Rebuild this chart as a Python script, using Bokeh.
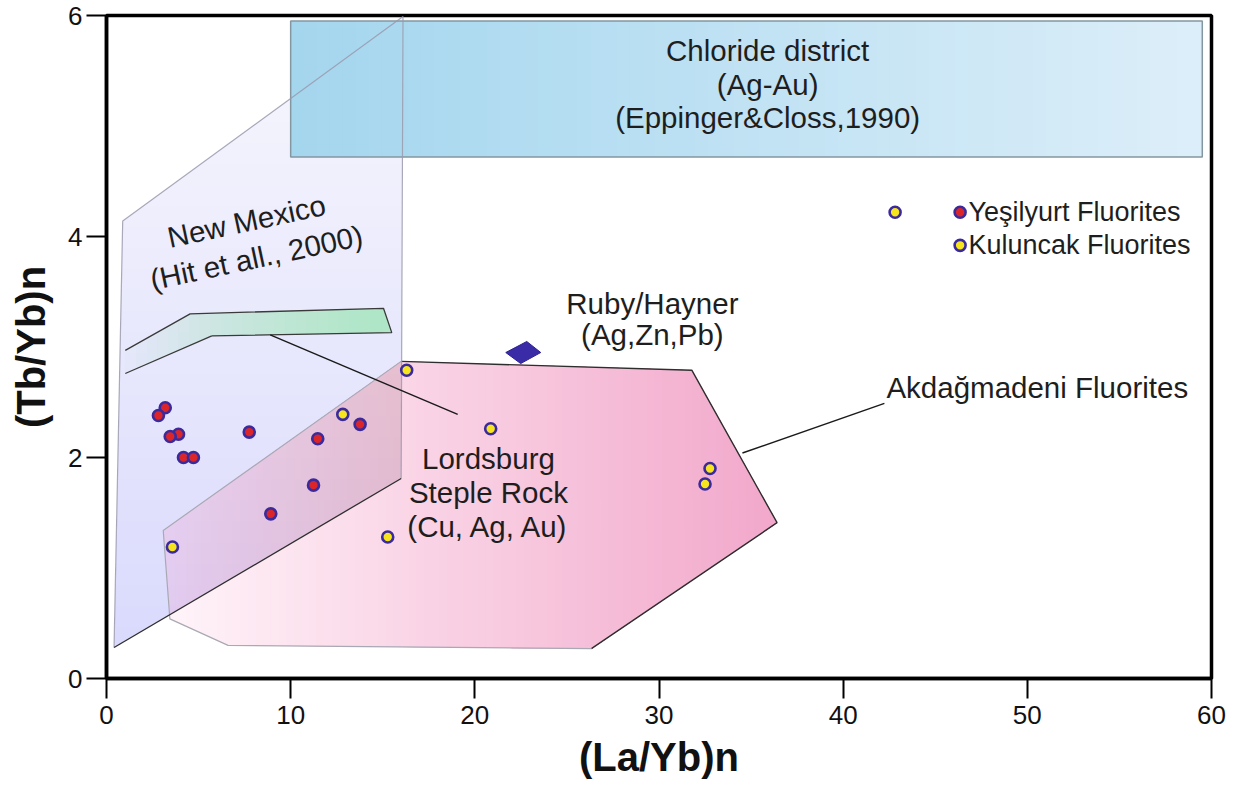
import numpy as np
from bokeh.plotting import figure
from bokeh.models import Range1d, FixedTicker
from bokeh.core.properties import value
from bokeh.embed import file_html
from bokeh.resources import INLINE

# ---------------- data ----------------
x_ticks = [0, 10, 20, 30, 40, 50, 60]
y_ticks = [0, 2, 4, 6]

yesilyurt_x = [3.19, 2.82, 3.91, 3.46, 4.18, 4.72, 7.75, 11.47, 13.77, 11.24, 8.92]
yesilyurt_y = [2.45, 2.38, 2.21, 2.19, 2.00, 2.00, 2.23, 2.17, 2.30, 1.75, 1.49]

kuluncak_x = [16.30, 12.83, 20.86, 15.27, 3.58, 32.77, 32.50, 42.82]
kuluncak_y = [2.79, 2.39, 2.26, 1.28, 1.19, 1.90, 1.76, 4.22]

chloride_x = [10.0, 59.5, 59.5, 10.0]
chloride_y = [4.72, 4.72, 5.95, 5.95]

newmexico_x = [0.41, 0.88, 16.1, 16.0]
newmexico_y = [0.28, 4.14, 5.99, 1.81]

lordsburg_x = [1.02, 4.54, 15.04, 15.49, 5.72, 1.02]
lordsburg_y = [2.97, 3.30, 3.35, 3.13, 3.10, 2.76]

akdag_x = [3.08, 16.0, 31.78, 36.41, 26.33, 6.60, 3.44]
akdag_y = [1.34, 2.87, 2.79, 1.41, 0.27, 0.30, 0.54]

ruby_x = [21.68, 22.82, 23.58, 22.49]
ruby_y = [2.95, 3.05, 2.95, 2.85]

lead_lords_x = [8.89, 19.07]
lead_lords_y = [3.11, 2.39]
lead_akdag_x = [34.53, 42.24]
lead_akdag_y = [2.04, 2.49]

chloride_text = ["Chloride district", "(Ag-Au)", "(Eppinger&Closs,1990)"]
chloride_tx = [35.9, 35.9, 35.9]
chloride_ty = [5.68, 5.38, 5.08]

newmex_text = ["New Mexico", "(Hit et all., 2000)"]
newmex_tx = [7.60, 8.14]
newmex_ty = [4.14, 3.81]

ruby_text = ["Ruby/Hayner", "(Ag,Zn,Pb)"]
ruby_tx = [29.64, 29.64]
ruby_ty = [3.39, 3.11]

lords_text = ["Lordsburg", "Steple Rock", "(Cu, Ag, Au)"]
lords_tx = [20.74, 20.74, 20.74]
lords_ty = [1.99, 1.68, 1.38]

akdag_text = ["Akdağmadeni Fluorites"]
akdag_tx = [50.54]
akdag_ty = [2.63]

legend_names = ["Yeşilyurt Fluorites", "Kuluncak Fluorites"]
legend_mx = [46.35, 46.35]
legend_my = [4.22, 3.92]
legend_tx = [46.8, 46.8]

FONT = "Liberation Sans"
RING = "#3b2a9c"
RED = "#db2529"
YEL = "#f6e51e"
TXT = "#1e1e1e"


# ---------------- helpers ----------------
def clip_generic(pts, inside, inter):
    out = []
    for i in range(len(pts)):
        cur, prev = pts[i], pts[i - 1]
        if inside(cur):
            if not inside(prev):
                out.append(inter(prev, cur))
            out.append(cur)
        elif inside(prev):
            out.append(inter(prev, cur))
    return out


def clip_half(xs, ys, axis, bound, keep_greater):
    pts = list(zip(xs, ys))

    def inside(q):
        return q[axis] >= bound if keep_greater else q[axis] <= bound

    def inter(a, b):
        t = (bound - a[axis]) / (b[axis] - a[axis])
        return (a[0] + t * (b[0] - a[0]), a[1] + t * (b[1] - a[1]))

    out = clip_generic(pts, inside, inter)
    return [q[0] for q in out], [q[1] for q in out]


def clip_convex(xs, ys, cxs, cys):
    """Clip polygon (xs, ys) by the convex polygon (cxs, cys)."""
    pts = list(zip(xs, ys))
    cpts = list(zip(cxs, cys))
    area = sum(cpts[i - 1][0] * cpts[i][1] - cpts[i][0] * cpts[i - 1][1] for i in range(len(cpts)))
    sgn = 1 if area > 0 else -1
    for i in range(len(cpts)):
        a, b = cpts[i - 1], cpts[i]

        def side(q, a=a, b=b):
            return sgn * ((b[0] - a[0]) * (q[1] - a[1]) - (b[1] - a[1]) * (q[0] - a[0]))

        def inter(p0, p1, side=side):
            s0, s1 = side(p0), side(p1)
            t = s0 / (s0 - s1)
            return (p0[0] + t * (p1[0] - p0[0]), p0[1] + t * (p1[1] - p0[1]))

        pts = clip_generic(pts, lambda q, side=side: side(q) >= 0, inter)
        if not pts:
            break
    return [q[0] for q in pts], [q[1] for q in pts]


def hex2rgb(h):
    h = h.lstrip("#")
    return tuple(int(h[i:i + 2], 16) for i in (0, 2, 4))


def mix(c0, c1, t):
    a, b = hex2rgb(c0), hex2rgb(c1)
    return "#%02x%02x%02x" % tuple(int(round(a[i] + (b[i] - a[i]) * t)) for i in range(3))


def opaque_gradient(p, xs, ys, c0, c1, n):
    lo, hi = min(xs), max(xs)
    pxs, pys, cols = [], [], []
    for k in range(n):
        b = lo + (hi - lo) * k / n
        cx, cy = clip_half(xs, ys, 0, b, True)
        if len(cx) < 3:
            continue
        pxs.append(cx)
        pys.append(cy)
        cols.append(mix(c0, c1, k / (n - 1)))
    p.patches(pxs, pys, fill_color=cols, line_color=None)


def alpha_layers(p, xs, ys, color, base_alpha, step_alpha, n, axis, keep_greater):
    coords = xs if axis == 0 else ys
    lo, hi = min(coords), max(coords)
    pxs, pys, alphas = [list(xs)], [list(ys)], [base_alpha]
    for k in range(1, n):
        if keep_greater:
            b = lo + (hi - lo) * k / n
        else:
            b = hi - (hi - lo) * k / n
        cx, cy = clip_half(xs, ys, axis, b, keep_greater)
        if len(cx) < 3:
            continue
        pxs.append(cx)
        pys.append(cy)
        alphas.append(step_alpha)
    p.patches(pxs, pys, fill_color=color, fill_alpha=alphas, line_color=None)


# ---------------- figure ----------------
p = figure(frame_width=1105, frame_height=663,
           x_range=Range1d(0, 60), y_range=Range1d(0, 6),
           output_backend="svg", toolbar_location=None,
           min_border_left=106, min_border_top=15, min_border_right=20,
           min_border_bottom=5)
p.background_fill_color = "white"
p.border_fill_color = "white"
p.grid.visible = False
p.outline_line_color = "black"
p.outline_line_width = 3.5

for ax in (p.xaxis[0], p.yaxis[0]):
    ax.axis_line_width = 3.5
    ax.axis_line_color = "black"
    ax.major_tick_in = 0
    ax.major_tick_line_width = 2
    ax.major_tick_line_color = "black"
    ax.minor_tick_line_color = None
    ax.major_label_text_font = FONT
    ax.major_label_text_font_size = "26px"
    ax.major_label_text_color = "#111111"
    ax.axis_label_text_font = FONT
    ax.axis_label_text_font_style = "bold"
    ax.axis_label_text_font_size = "40px"
    ax.axis_label_text_color = "#111111"

p.xaxis[0].ticker = FixedTicker(ticks=x_ticks)
p.yaxis[0].ticker = FixedTicker(ticks=y_ticks)
p.xaxis[0].major_tick_out = 20
p.yaxis[0].major_tick_out = 20
p.xaxis[0].major_label_standoff = 7
p.yaxis[0].major_label_standoff = 4
p.xaxis[0].axis_label = "(La/Yb)n"
p.yaxis[0].axis_label = "(Tb/Yb)n"
p.xaxis[0].axis_label_standoff = 8
p.yaxis[0].axis_label_standoff = 12

# Akdagmadeni (pink gradient) - drawn first, lavender overlays it
opaque_gradient(p, akdag_x, akdag_y, "#fff4f9", "#f2a8cb", 80)

# New Mexico (lavender, fading upward)
alpha_layers(p, newmexico_x, newmexico_y, "#9696e1", 0.08, 0.013, 30, 1, False)

# pink tint on the part of Akdagmadeni that lies inside New Mexico
ov_x, ov_y = clip_convex(akdag_x, akdag_y, newmexico_x, newmexico_y)
if len(ov_x) >= 3:
    alpha_layers(p, ov_x, ov_y, "#f6b6d6", 0.22, 0.02, 20, 0, True)

# Chloride district box (blue gradient)
opaque_gradient(p, chloride_x, chloride_y, "#a4d6ee", "#dceef9", 70)
p.patch(chloride_x, chloride_y, fill_color=None, line_color="#8496a0", line_width=1.5)

# outlines
dark_idx = [1, 2, 3, 4]
light_idx = [4, 5, 6, 0, 1]
p.line([akdag_x[i] for i in dark_idx], [akdag_y[i] for i in dark_idx],
       line_color="#2e2e2e", line_width=1.4)
p.line([akdag_x[i] for i in light_idx], [akdag_y[i] for i in light_idx],
       line_color="#a9a9b4", line_width=1.2)
nm_light = [0, 1, 2, 3]
nm_dark = [3, 0]
p.line([newmexico_x[i] for i in nm_light], [newmexico_y[i] for i in nm_light],
       line_color="#9a9aae", line_alpha=0.85, line_width=1.2)
p.line([newmexico_x[i] for i in nm_dark], [newmexico_y[i] for i in nm_dark],
       line_color="#2e2e2e", line_width=1.3)

# Lordsburg / Steple Rock band (green, fading leftward)
alpha_layers(p, lordsburg_x, lordsburg_y, "#a2eeb4", 0.06, 0.038, 25, 0, True)
p.line(lordsburg_x[0:5], lordsburg_y[0:5], line_color="#3a3a3a", line_width=1.3)
p.line(lordsburg_x[4:6], lordsburg_y[4:6], line_color="#3a3a3a", line_width=1.3)

# Ruby/Hayner diamond
p.patch(ruby_x, ruby_y, fill_color="#3a2ca6", line_color="#2c2290", line_width=1)

# leader lines
p.line(lead_lords_x, lead_lords_y, line_color="#1a1a1a", line_width=1.5)
p.line(lead_akdag_x, lead_akdag_y, line_color="#1a1a1a", line_width=1.5)

# points
p.scatter(yesilyurt_x, yesilyurt_y, size=11, fill_color=RED, line_color=RING, line_width=2.6)
p.scatter(kuluncak_x, kuluncak_y, size=11, fill_color=YEL, line_color=RING, line_width=2.6)

# manual legend
p.scatter(legend_mx[0:1], legend_my[0:1], size=11, fill_color=RED, line_color=RING, line_width=2.6)
p.scatter(legend_mx[1:2], legend_my[1:2], size=11, fill_color=YEL, line_color=RING, line_width=2.6)
p.text(legend_tx, legend_my, text=legend_names, text_font=value(FONT), text_font_size="27px",
       text_align="left", text_baseline="middle", text_color=TXT)

# annotations
common = dict(text_font=value(FONT), text_font_size="29.5px", text_align="center",
              text_baseline="middle", text_color=TXT)
p.text(chloride_tx, chloride_ty, text=chloride_text, **common)
p.text(ruby_tx, ruby_ty, text=ruby_text, **common)
p.text(lords_tx, lords_ty, text=lords_text, **common)
p.text(akdag_tx, akdag_ty, text=akdag_text, **common)
p.text(newmex_tx, newmex_ty, text=newmex_text, angle=np.deg2rad(12), **common)

open("out.html", "w").write(file_html(p, INLINE))
